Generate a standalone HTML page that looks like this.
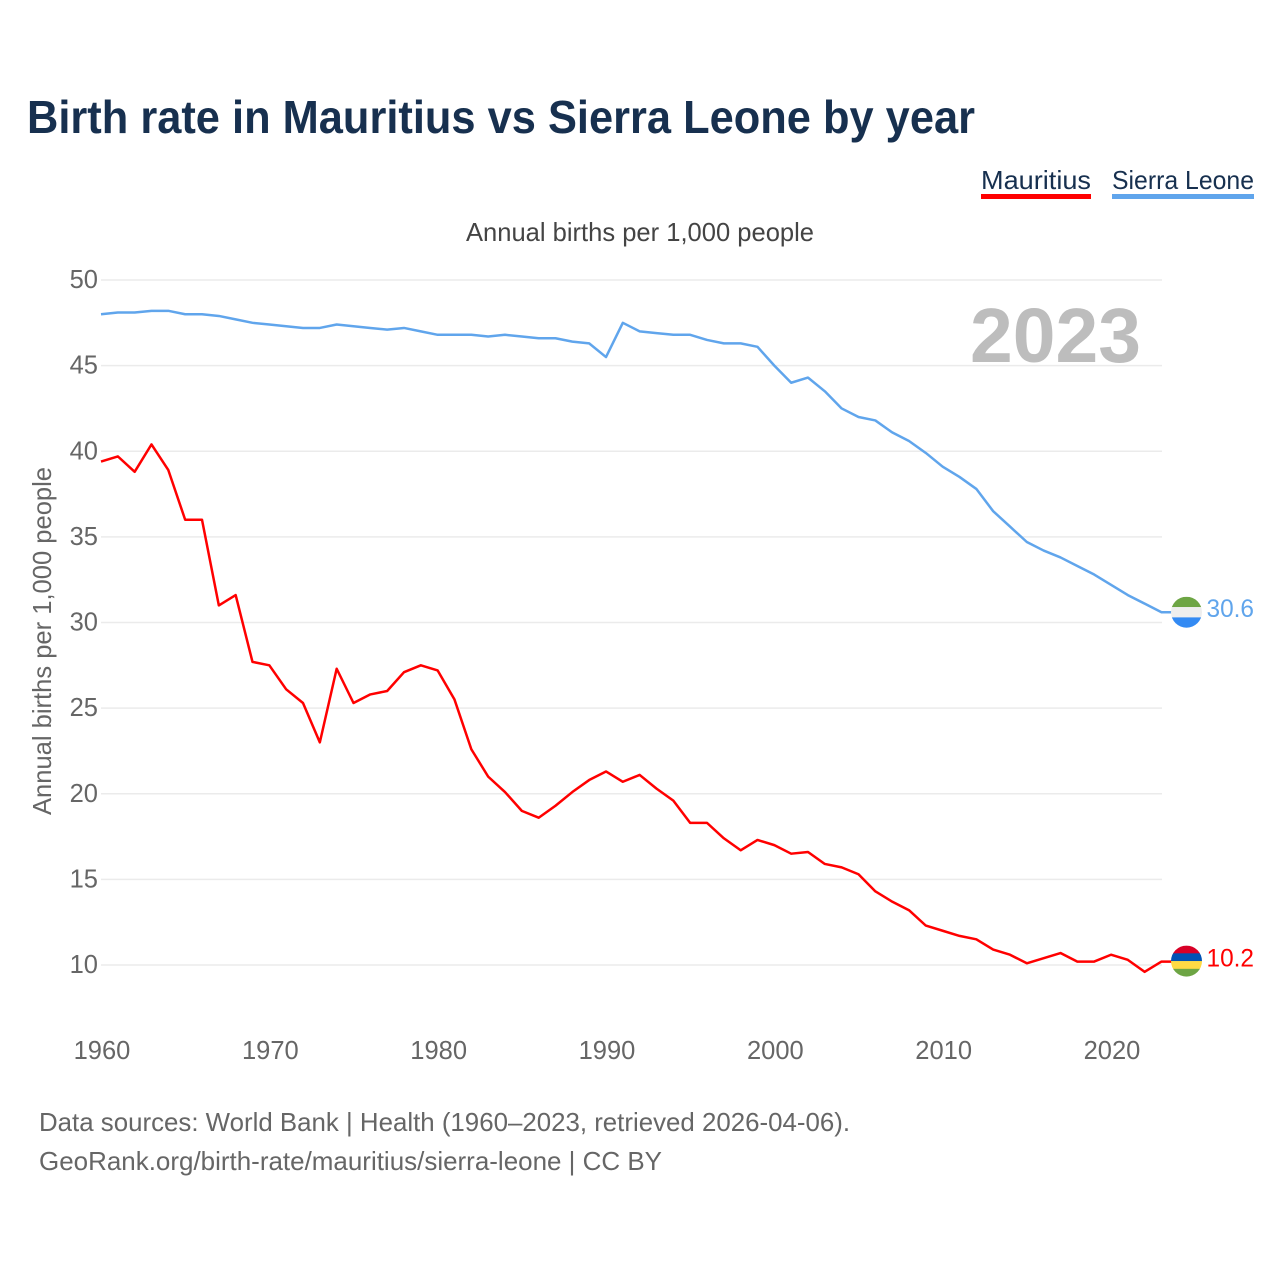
<!DOCTYPE html>
<html lang="en">
<head>
<meta charset="utf-8">
<title>Birth rate in Mauritius vs Sierra Leone by year</title>
<style>
html,body{margin:0;padding:0;background:#fff;}
svg{display:block;font-family:"Liberation Sans",sans-serif;}
</style>
</head>
<body>
<svg id="chart" width="1280" height="1280" viewBox="0 0 1280 1280" xmlns="http://www.w3.org/2000/svg">
  <rect width="1280" height="1280" fill="#ffffff"/>
  <text x="27" y="133" font-size="46" font-weight="700" fill="#17304f" textLength="948" lengthAdjust="spacingAndGlyphs">Birth rate in Mauritius vs Sierra Leone by year</text>

  <g>
    <text x="981" y="189" font-size="26" fill="#17304f" textLength="110" lengthAdjust="spacingAndGlyphs">Mauritius</text>
    <rect x="981" y="194" width="110" height="5" fill="#ff0000"/>
  </g>
  <g>
    <text x="1112" y="189" font-size="26" fill="#17304f" textLength="142" lengthAdjust="spacingAndGlyphs">Sierra Leone</text>
    <rect x="1112" y="194" width="142" height="5" fill="#60a5ec"/>
  </g>

  <text x="466" y="241" font-size="26" fill="#444444" textLength="348" lengthAdjust="spacingAndGlyphs">Annual births per 1,000 people</text>

  <g id="grid"></g>
  <g id="yticks"></g>
  <g id="xticks"></g>

  <text transform="translate(51,815) rotate(-90)" font-size="26" fill="#666666" textLength="348" lengthAdjust="spacingAndGlyphs">Annual births per 1,000 people</text>

  <text x="970" y="362" font-size="77" font-weight="700" fill="#bdbdbd" textLength="171" lengthAdjust="spacingAndGlyphs">2023</text>

  <g id="series"></g>

  <g id="flag-sl"></g>
  <g id="flag-mu"></g>

  <text x="39" y="1131" font-size="26" fill="#666666" textLength="811" lengthAdjust="spacingAndGlyphs">Data sources: World Bank | Health (1960–2023, retrieved 2026-04-06).</text>
  <text x="39" y="1170" font-size="26" fill="#666666" textLength="623" lengthAdjust="spacingAndGlyphs">GeoRank.org/birth-rate/mauritius/sierra-leone | CC BY</text>
</svg>
<script>
const startYear = 1960;
const xTickLabels = [1960, 1970, 1980, 1990, 2000, 2010, 2020];
const yTickLabels = [50, 45, 40, 35, 30, 25, 20, 15, 10];
const mauritius = [39.4,39.7,38.8,40.4,38.9,36.0,36.0,31.0,31.6,27.7,27.5,26.1,25.3,23.0,27.3,25.3,25.8,26.0,27.1,27.5,27.2,25.5,22.6,21.0,20.1,19.0,18.6,19.3,20.1,20.8,21.3,20.7,21.1,20.3,19.6,18.3,18.3,17.4,16.7,17.3,17.0,16.5,16.6,15.9,15.7,15.3,14.3,13.7,13.2,12.3,12.0,11.7,11.5,10.9,10.6,10.1,10.4,10.7,10.2,10.2,10.6,10.3,9.6,10.2];
const sierraLeone = [48.0,48.1,48.1,48.2,48.2,48.0,48.0,47.9,47.7,47.5,47.4,47.3,47.2,47.2,47.4,47.3,47.2,47.1,47.2,47.0,46.8,46.8,46.8,46.7,46.8,46.7,46.6,46.6,46.4,46.3,45.5,47.5,47.0,46.9,46.8,46.8,46.5,46.3,46.3,46.1,45.0,44.0,44.3,43.5,42.5,42.0,41.8,41.1,40.6,39.9,39.1,38.5,37.8,36.5,35.6,34.7,34.2,33.8,33.3,32.8,32.2,31.6,31.1,30.6];

const NS = 'http://www.w3.org/2000/svg';
function xScale(year){ return 101 + (year - 1960) * (1111 - 101) / 60; }
function yScale(v){ return 965 - (v - 10) * (965 - 280) / 40; }
function make(tag, attrs, parent, text){
  const el = document.createElementNS(NS, tag);
  for (const k in attrs) el.setAttribute(k, attrs[k]);
  if (text !== undefined) el.textContent = text;
  parent.appendChild(el);
  return el;
}

const grid = document.getElementById('grid');
const yticks = document.getElementById('yticks');
const xticks = document.getElementById('xticks');
yTickLabels.forEach(function(v){
  const line = make('line', {x1: 101, x2: 1162, y1: yScale(v), y2: yScale(v), stroke: '#ebebeb', 'stroke-width': 1.5}, grid);
  
  
  const label = make('text', {x: 98, y: yScale(v) + 8, 'text-anchor': 'end', 'font-size': 25.5, fill: '#666666'}, yticks, String(v));
  
  
});
xTickLabels.forEach(function(y){
  const label = make('text', {x: xScale(y) + 1, y: 1059, 'text-anchor': 'middle', 'font-size': 25.5, fill: '#666666'}, xticks, String(y));
  
  
});

const seriesGroup = document.getElementById('series');
function drawSeries(values, color, key, stubEnd){
  const pts = values.map(function(v, i){ return xScale(startYear + i).toFixed(2) + ',' + yScale(v).toFixed(2); });
  const last = values[values.length - 1];
  pts.push(stubEnd + ',' + yScale(last).toFixed(2));
  const line = make('polyline', {points: pts.join(' '), fill: 'none', stroke: color, 'stroke-width': 2.5, 'stroke-linejoin': 'round'}, seriesGroup);
  
  
  const label = make('text', {x: 1254, y: yScale(last) + 5, 'text-anchor': 'end', 'font-size': 25, fill: color, textLength: 47.5, lengthAdjust: 'spacingAndGlyphs'}, seriesGroup, last.toFixed(1));
  
  
}
drawSeries(sierraLeone, '#60a5ec', 'sierra-leone', 1172);
drawSeries(mauritius, '#ff0000', 'mauritius', 1172);

function drawFlag(groupId, id, cy, stripes){
  const g = document.getElementById(groupId);
  const clip = make('clipPath', {id: id}, g);
  make('circle', {cx: 1186.5, cy: cy, r: 15.5}, clip);
  const h = 31 / stripes.length;
  stripes.forEach(function(c, i){
    make('rect', {x: 1171, y: cy - 15.5 + i * h, width: 31, height: h + 0.2, fill: c, 'clip-path': 'url(#' + id + ')'}, g);
  });
}
drawFlag('flag-sl', 'clip-sl', yScale(sierraLeone[sierraLeone.length - 1]), ['#6da544', '#eeeeee', '#338af3']);
drawFlag('flag-mu', 'clip-mu', yScale(mauritius[mauritius.length - 1]) - 0.5, ['#d80027', '#0052b4', '#ffda44', '#6da544']);
</script>
</body>
</html>
